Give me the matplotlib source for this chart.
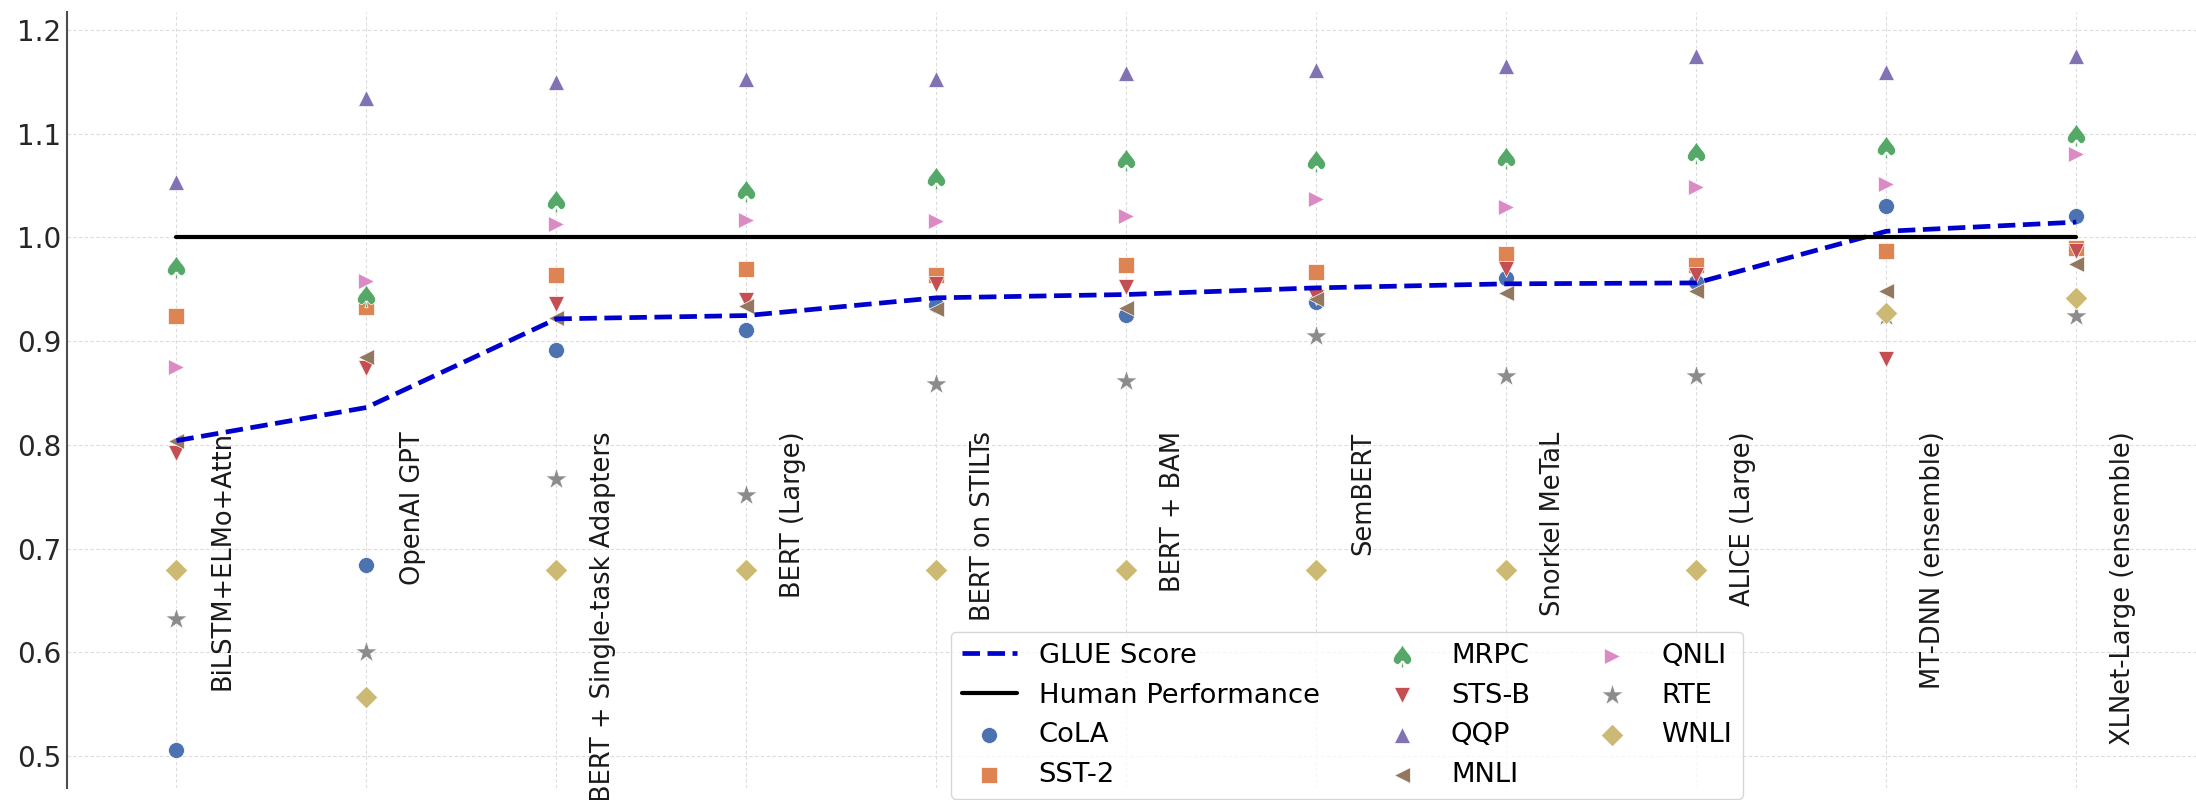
import matplotlib
matplotlib.use("Agg")
import matplotlib.pyplot as plt

models = ["BiLSTM+ELMo+Attn", "OpenAI GPT", "BERT + Single-task Adapters",
          "BERT (Large)", "BERT on STILTs", "BERT + BAM", "SemBERT",
          "Snorkel MeTaL", "ALICE (Large)", "MT-DNN (ensemble)",
          "XLNet-Large (ensemble)"]

glue = [0.804, 0.836, 0.9215, 0.9247, 0.9418, 0.945, 0.9514, 0.9553, 0.9562, 1.006, 1.0148]
human = [1.0] * 11

cola = [0.506, 0.684, 0.8916, 0.911, 0.935, 0.9257, 0.938, 0.9607, 0.957, 1.030, 1.021]
sst2 = [0.924, 0.933, 0.964, 0.970, 0.964, 0.9733, 0.967, 0.984, 0.9733, 0.9865, 0.9894]
mrpc = [0.9717, 0.944, 1.035, 1.045, 1.0576, 1.0743, 1.074, 1.0766, 1.0817, 1.0872, 1.099]
stsb = [0.792, 0.874, 0.9356, 0.9395, 0.955, 0.9524, 0.943, 0.970, 0.964, 0.8826, 0.9865]
qqp = [1.0534, 1.1345, 1.1496, 1.153, 1.1528, 1.159, 1.162, 1.165, 1.175, 1.160, 1.1754]
mnli = [0.804, 0.8845, 0.922, 0.934, 0.931, 0.9324, 0.941, 0.946, 0.948, 0.9485, 0.974]
qnli = [0.875, 0.958, 1.0129, 1.0164, 1.0161, 1.0206, 1.037, 1.0296, 1.0489, 1.052, 1.081]
rte = [0.632, 0.600, 0.767, 0.752, 0.8584, 0.8613, 0.9054, 0.8665, 0.8665, 0.924, 0.9244]
wnli = [0.679, 0.557, 0.679, 0.679, 0.679, 0.679, 0.679, 0.679, 0.679, 0.927, 0.942]

task_names = ["CoLA", "SST-2", "MRPC", "STS-B", "QQP", "MNLI", "QNLI", "RTE", "WNLI"]
task_values = [cola, sst2, mrpc, stsb, qqp, mnli, qnli, rte, wnli]
task_markers = ["o", "s", r"$\spadesuit$", "v", "^", "<", ">", "*", "D"]
task_colors = ["#4C72B0", "#DD8452", "#55A868", "#C44E52", "#8172B3",
               "#937860", "#DA8BC3", "#8C8C8C", "#CCB974"]
task_sizes = [132, 132, 265, 132, 132, 132, 132, 270, 132]
yticks = [0.5, 0.6, 0.7, 0.8, 0.9, 1.0, 1.1, 1.2]

W, H = 2196, 800
fig = plt.figure(figsize=(W / 100, H / 100), dpi=100)
ax = fig.add_axes([67 / W, 12 / H, 1 - 67 / W, 776 / H])

x = list(range(len(models)))

ax.plot(x, glue, linestyle="--", color="mediumblue", linewidth=3.4,
        label="GLUE Score", zorder=3)
ax.plot(x, human, linestyle="-", color="black", linewidth=3.0,
        solid_capstyle="round", label="Human Performance", zorder=3)

for name, vals, mk, col, sz in zip(task_names, task_values, task_markers,
                                   task_colors, task_sizes):
    ax.scatter(x, vals, marker=mk, s=sz, color=col, edgecolors="white",
               linewidths=0.5, label=name, zorder=2)

for xi, name in zip(x, models):
    ax.text(xi + 0.245, 0.813, name, rotation=90, va="top", ha="center",
            fontsize=18.5, color="0.1", zorder=2.5)

ax.set_xlim(-0.576, 10.63)
ax.set_ylim(0.469, 1.2175)
ax.set_yticks(yticks)
ax.set_yticklabels([f"{t:.1f}" for t in yticks])
ax.set_xticks(x)
ax.set_xticklabels([])
ax.tick_params(axis="both", length=0, pad=4, labelsize=20, labelcolor="0.15")
ax.set_axisbelow(True)
ax.grid(True, linestyle=(0, (3, 2.2)), color="#dcdcdc", linewidth=0.8)
for s in ["top", "right", "bottom"]:
    ax.spines[s].set_visible(False)
ax.spines["left"].set_color("0.3")
ax.spines["left"].set_linewidth(1.5)

ax.legend(ncol=3, fontsize=19.7, loc="upper left",
          bbox_to_anchor=(951 / W, 1 - 632 / H), bbox_transform=fig.transFigure,
          borderaxespad=0, scatterpoints=1)

fig.savefig("out.png", dpi=100)
